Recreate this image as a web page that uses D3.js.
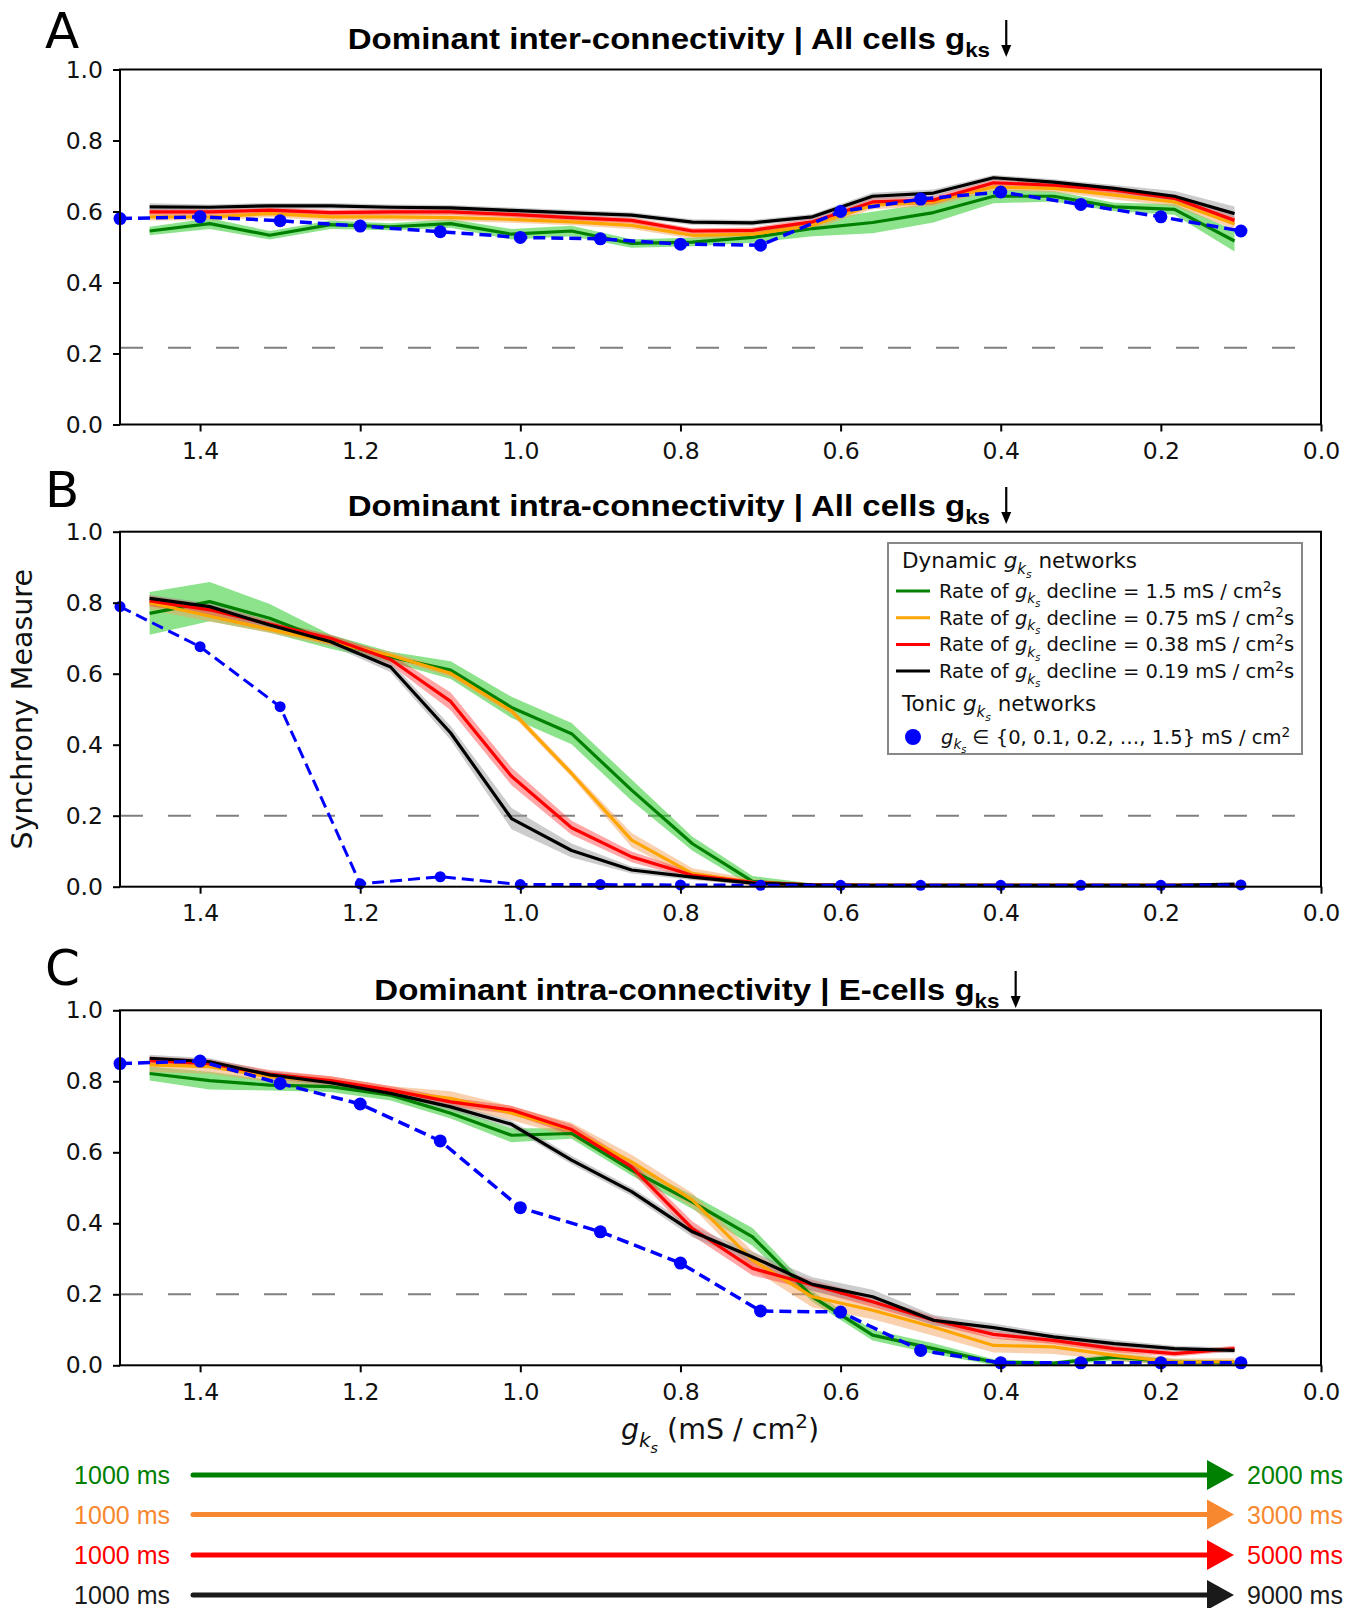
<!DOCTYPE html>
<html>
<head>
<meta charset="utf-8">
<script src="https://cdn.jsdelivr.net/npm/d3@7"></script>
<style>
  html, body { margin: 0; padding: 0; background: #fff; }
  svg { display: block; }
</style>
</head>
<body>
<svg id="fig" width="1353" height="1608"></svg>
<script>
// gks values where the dynamic runs were sampled, and the tonic network values
const xDyn = [1.463, 1.388, 1.313, 1.237, 1.162, 1.087, 1.011, 0.936, 0.861, 0.785,
              0.710, 0.635, 0.560, 0.484, 0.409, 0.334, 0.258, 0.183, 0.108];
const xTonic = [1.5, 1.4, 1.3, 1.2, 1.1, 1.0, 0.9, 0.8, 0.7, 0.6, 0.5, 0.4, 0.3, 0.2, 0.1];
const xTicks = [1.4, 1.2, 1.0, 0.8, 0.6, 0.4, 0.2, 0.0];
const yTicks = [0, 0.2, 0.4, 0.6, 0.8, 1.0];

// Panel A - dominant inter-connectivity, all cells
const aGreen    = [0.545, 0.566, 0.533, 0.563, 0.557, 0.566, 0.536, 0.545, 0.510, 0.514, 0.527, 0.552, 0.569, 0.597, 0.643, 0.643, 0.613, 0.606, 0.517];
const aGreenSd  = [0.012, 0.015, 0.012, 0.012, 0.010, 0.012, 0.015, 0.015, 0.012, 0.012, 0.015, 0.022, 0.030, 0.028, 0.020, 0.015, 0.012, 0.015, 0.030];
const aOrange   = [0.585, 0.585, 0.594, 0.585, 0.585, 0.583, 0.578, 0.571, 0.561, 0.533, 0.536, 0.561, 0.618, 0.627, 0.669, 0.665, 0.646, 0.627, 0.565];
const aOrangeSd = [0.010, 0.010, 0.010, 0.010, 0.010, 0.010, 0.010, 0.010, 0.010, 0.010, 0.010, 0.012, 0.012, 0.012, 0.010, 0.010, 0.012, 0.012, 0.015];
const aRed      = [0.599, 0.599, 0.604, 0.597, 0.599, 0.599, 0.592, 0.583, 0.575, 0.545, 0.547, 0.571, 0.627, 0.632, 0.681, 0.674, 0.660, 0.637, 0.575];
const aRedSd    = [0.008, 0.008, 0.008, 0.008, 0.008, 0.008, 0.008, 0.008, 0.008, 0.008, 0.008, 0.010, 0.012, 0.012, 0.010, 0.010, 0.010, 0.010, 0.012];
const aBlack    = [0.613, 0.612, 0.616, 0.616, 0.612, 0.610, 0.603, 0.596, 0.590, 0.570, 0.568, 0.585, 0.643, 0.652, 0.695, 0.683, 0.665, 0.643, 0.594];
const aBlackSd  = [0.010, 0.008, 0.008, 0.008, 0.008, 0.008, 0.008, 0.008, 0.008, 0.008, 0.008, 0.008, 0.010, 0.010, 0.008, 0.008, 0.010, 0.015, 0.020];
const aTonic    = [0.580, 0.585, 0.574, 0.559, 0.543, 0.527, 0.523, 0.508, 0.505, 0.600, 0.635, 0.655, 0.620, 0.585, 0.545];

// Panel B - dominant intra-connectivity, all cells
const bGreen    = [0.770, 0.803, 0.756, 0.690, 0.647, 0.610, 0.505, 0.431, 0.272, 0.121, 0.015, 0.004, 0.004, 0.004, 0.004, 0.004, 0.004, 0.004, 0.004];
const bGreenSd  = [0.060, 0.055, 0.040, 0.020, 0.015, 0.025, 0.030, 0.030, 0.030, 0.020, 0.015, 0.005, 0.003, 0.003, 0.003, 0.003, 0.003, 0.003, 0.003];
const bOrange   = [0.800, 0.762, 0.725, 0.688, 0.652, 0.601, 0.495, 0.319, 0.131, 0.037, 0.012, 0.005, 0.004, 0.004, 0.004, 0.004, 0.004, 0.004, 0.004];
const bOrangeSd = [0.020, 0.015, 0.010, 0.010, 0.010, 0.010, 0.010, 0.010, 0.020, 0.015, 0.010, 0.003, 0.003, 0.003, 0.003, 0.003, 0.003, 0.003, 0.003];
const bRed      = [0.805, 0.780, 0.740, 0.700, 0.640, 0.522, 0.311, 0.166, 0.084, 0.032, 0.012, 0.005, 0.004, 0.004, 0.004, 0.004, 0.004, 0.004, 0.004];
const bRedSd    = [0.015, 0.015, 0.010, 0.010, 0.015, 0.025, 0.025, 0.020, 0.015, 0.010, 0.005, 0.003, 0.003, 0.003, 0.003, 0.003, 0.003, 0.003, 0.003];
const bBlack    = [0.812, 0.789, 0.737, 0.690, 0.619, 0.433, 0.192, 0.102, 0.047, 0.027, 0.010, 0.005, 0.004, 0.004, 0.004, 0.004, 0.004, 0.004, 0.007];
const bBlackSd  = [0.010, 0.010, 0.010, 0.010, 0.015, 0.020, 0.030, 0.020, 0.010, 0.008, 0.005, 0.003, 0.003, 0.003, 0.003, 0.003, 0.003, 0.003, 0.003];
const bTonic    = [0.789, 0.676, 0.507, 0.008, 0.028, 0.006, 0.006, 0.005, 0.004, 0.004, 0.004, 0.004, 0.004, 0.004, 0.005];

// Panel C - dominant intra-connectivity, E-cells
const cGreen    = [0.822, 0.802, 0.789, 0.785, 0.761, 0.710, 0.648, 0.653, 0.550, 0.460, 0.362, 0.193, 0.085, 0.047, 0.009, 0.006, 0.023, 0.009, 0.008];
const cGreenSd  = [0.020, 0.025, 0.015, 0.015, 0.015, 0.015, 0.020, 0.015, 0.015, 0.020, 0.025, 0.015, 0.015, 0.015, 0.008, 0.005, 0.010, 0.008, 0.005];
const cOrange   = [0.846, 0.841, 0.813, 0.799, 0.771, 0.752, 0.710, 0.663, 0.573, 0.465, 0.296, 0.193, 0.155, 0.108, 0.056, 0.052, 0.028, 0.009, 0.010];
const cOrangeSd = [0.020, 0.020, 0.015, 0.015, 0.015, 0.020, 0.020, 0.020, 0.020, 0.020, 0.025, 0.030, 0.025, 0.025, 0.020, 0.020, 0.015, 0.010, 0.010];
const cRed      = [0.858, 0.850, 0.820, 0.802, 0.775, 0.742, 0.719, 0.664, 0.559, 0.385, 0.273, 0.226, 0.179, 0.127, 0.087, 0.070, 0.047, 0.033, 0.047];
const cRedSd    = [0.012, 0.012, 0.012, 0.012, 0.012, 0.012, 0.012, 0.015, 0.015, 0.020, 0.020, 0.015, 0.015, 0.012, 0.012, 0.010, 0.010, 0.008, 0.008];
const cBlack    = [0.865, 0.855, 0.818, 0.796, 0.766, 0.728, 0.679, 0.578, 0.489, 0.376, 0.305, 0.228, 0.193, 0.127, 0.106, 0.080, 0.061, 0.047, 0.042];
const cBlackSd  = [0.010, 0.010, 0.010, 0.010, 0.010, 0.010, 0.010, 0.012, 0.012, 0.015, 0.015, 0.020, 0.020, 0.015, 0.012, 0.010, 0.010, 0.008, 0.008];
const cTonic    = [0.850, 0.857, 0.794, 0.736, 0.632, 0.444, 0.376, 0.288, 0.153, 0.150, 0.042, 0.007, 0.007, 0.007, 0.007];

const thresholds = [0.216, 0.2, 0.2];
const panelLetters = ['A', 'B', 'C'];
const panelTitles = [
  'Dominant inter-connectivity | All cells ',
  'Dominant intra-connectivity | All cells ',
  'Dominant intra-connectivity | E-cells '
];
const rates = ['1.5', '0.75', '0.38', '0.19'];
const lineColors = ['green', 'orange', 'red', 'black'];
const bandColors = ['#2ecc2e', '#f4a460', '#ff2020', '#999999'];
const bandOpacity = [0.55, 0.5, 0.4, 0.5];
const timeStart = ['1000 ms', '1000 ms', '1000 ms', '1000 ms'];
const timeEnd = ['2000 ms', '3000 ms', '5000 ms', '9000 ms'];
const timeColors = ['#008000', '#f7882f', '#ff0000', '#1a1a1a'];

const panels = [
  { means: [aGreen, aOrange, aRed, aBlack], sds: [aGreenSd, aOrangeSd, aRedSd, aBlackSd], tonic: aTonic },
  { means: [bGreen, bOrange, bRed, bBlack], sds: [bGreenSd, bOrangeSd, bRedSd, bBlackSd], tonic: bTonic },
  { means: [cGreen, cOrange, cRed, cBlack], sds: [cGreenSd, cOrangeSd, cRedSd, cBlackSd], tonic: cTonic }
];

// layout
const svg = d3.select('#fig');
const x = d3.scaleLinear().domain([1.5, 0]).range([120, 1321]);
const panelTop = [69.5, 531.7, 1010.3];
const panelH = 355;
const titleBase = [49, 516, 1000];
const titleCenter = [680, 680, 698];
const letterBase = [47.5, 507, 985];
const TICK_FONT = '"DejaVu Sans", sans-serif';
const TITLE_FONT = '"Liberation Sans", Arial, sans-serif';

// text with italic / sub / sup runs
function richText(sel, parts, size) {
  let shift = 0;
  parts.forEach(p => {
    const target = p.sub ? size * 0.28 : p.sub2 ? size * 0.48 : p.sup ? -size * 0.38 : 0;
    const fs = (p.sub || p.sup) ? size * 0.7 : p.sub2 ? size * 0.5 : size;
    sel.append('tspan')
      .attr('dy', (target - shift).toFixed(2))
      .attr('font-size', fs)
      .attr('font-style', p.it ? 'italic' : null)
      .text(p.t);
    shift = target;
  });
}
const gks = [{ t: 'g', it: 1 }, { t: 'k', it: 1, sub: 1 }, { t: 's', it: 1, sub2: 1 }];

panels.forEach((p, k) => {
  const top = panelTop[k];
  const y = d3.scaleLinear().domain([0, 1]).range([top + panelH, top]);
  const g = svg.append('g');

  const clipId = 'clip' + k;
  svg.append('clipPath').attr('id', clipId)
    .append('rect').attr('x', x(1.5)).attr('y', top).attr('width', x(0) - x(1.5)).attr('height', panelH);

  // threshold
  g.append('line')
    .attr('x1', x(1.5)).attr('x2', x(0.02))
    .attr('y1', y(thresholds[k])).attr('y2', y(thresholds[k]))
    .attr('stroke', '#808080').attr('stroke-width', 2)
    .attr('stroke-dasharray', '23,25');

  const data = g.append('g').attr('clip-path', `url(#${clipId})`);

  // shaded spread of each dynamic series
  p.means.forEach((m, s) => {
    const area = d3.area()
      .x((d, i) => x(xDyn[i]))
      .y0((d, i) => y(d - p.sds[s][i]))
      .y1((d, i) => y(d + p.sds[s][i]));
    data.append('path').attr('d', area(m))
      .attr('fill', bandColors[s]).attr('fill-opacity', bandOpacity[s]);
  });

  p.means.forEach((m, s) => {
    const line = d3.line().x((d, i) => x(xDyn[i])).y(d => y(d));
    data.append('path').attr('d', line(m))
      .attr('fill', 'none').attr('stroke', lineColors[s])
      .attr('stroke-width', 3.2).attr('stroke-linejoin', 'round');
  });

  // tonic networks
  const tline = d3.line().x((d, i) => x(xTonic[i])).y(d => y(d));
  g.append('path').attr('d', tline(p.tonic))
    .attr('fill', 'none').attr('stroke', 'blue').attr('stroke-width', k === 1 ? 3 : 3.5)
    .attr('stroke-dasharray', '12,6');
  g.selectAll('circle.tonic').data(p.tonic).enter().append('circle')
    .attr('class', 'tonic')
    .attr('cx', (d, i) => x(xTonic[i])).attr('cy', d => y(d))
    .attr('r', k === 1 ? 5.5 : 6.5).attr('fill', 'blue');

  // axes
  const yAxis = g.append('g').attr('transform', `translate(${x(1.5)},0)`)
    .call(d3.axisLeft(y).tickValues(yTicks).tickFormat(d3.format('.1f'))
      .tickSize(7).tickSizeOuter(0).tickPadding(10));
  const xAxis = g.append('g').attr('transform', `translate(0,${top + panelH})`)
    .call(d3.axisBottom(x).tickValues(xTicks).tickFormat(d3.format('.1f'))
      .tickSize(7).tickSizeOuter(0).tickPadding(11));
  [yAxis, xAxis].forEach(a => {
    a.select('.domain').remove();
    a.selectAll('line').attr('stroke', '#000').attr('stroke-width', 2);
    a.selectAll('text').attr('font-family', TICK_FONT).attr('font-size', 23.5).attr('fill', '#111');
  });

  g.append('rect')
    .attr('x', x(1.5)).attr('y', top)
    .attr('width', x(0) - x(1.5)).attr('height', panelH)
    .attr('fill', 'none').attr('stroke', '#000').attr('stroke-width', 2);

  // panel letter
  svg.append('text').attr('x', 45).attr('y', letterBase[k])
    .attr('font-family', TICK_FONT).attr('font-size', 50).attr('fill', '#000')
    .text(panelLetters[k]);

  // title with bold g_ks and a down arrow (text slightly widened like the source)
  const stretch = 1.12;
  const tg = svg.append('g');
  const title = tg.append('text').attr('x', 0).attr('y', 0)
    .attr('font-family', TITLE_FONT).attr('font-weight', 'bold')
    .attr('font-size', 29.5).attr('fill', '#000');
  title.append('tspan').text(panelTitles[k]);
  title.append('tspan').text('g');
  title.append('tspan').attr('font-size', 20).attr('dy', 8).text('ks');
  const tw = title.node().getComputedTextLength() * stretch;
  const gap = 16;
  const x0 = titleCenter[k] - (tw + gap + 6) / 2;
  tg.attr('transform', `translate(${x0},${titleBase[k]}) scale(${stretch},1)`);
  const ax = x0 + tw + gap;
  const by = titleBase[k];
  svg.append('line').attr('x1', ax).attr('x2', ax).attr('y1', by - 29).attr('y2', by - 2)
    .attr('stroke', '#000').attr('stroke-width', 2.2);
  svg.append('path')
    .attr('d', `M${ax - 5},${by - 4} L${ax + 5},${by - 4} L${ax},${by + 8} Z`)
    .attr('fill', '#000');
});

// y label on panel B
svg.append('text')
  .attr('transform', `translate(32,${panelTop[1] + panelH / 2}) rotate(-90)`)
  .attr('text-anchor', 'middle')
  .attr('font-family', TICK_FONT).attr('font-size', 28.5).attr('fill', '#111')
  .text('Synchrony Measure');

// x label under panel C
const xl = svg.append('text').attr('x', 720).attr('y', 1439)
  .attr('text-anchor', 'middle')
  .attr('font-family', TICK_FONT).attr('font-size', 28.5).attr('fill', '#111');
richText(xl, [...gks, { t: ' (mS / cm' }, { t: '2', sup: 1 }, { t: ')' }], 28.5);

// legend inside panel B
const leg = svg.append('g').attr('font-family', TICK_FONT).attr('fill', '#111');
leg.append('rect').attr('x', 888).attr('y', 543).attr('width', 414).attr('height', 211)
  .attr('fill', '#fff').attr('stroke', '#888').attr('stroke-width', 2);
const lt1 = leg.append('text').attr('x', 902).attr('y', 568).attr('font-size', 21.5);
richText(lt1, [{ t: 'Dynamic ' }, ...gks, { t: ' networks' }], 21.5);
rates.forEach((r, i) => {
  const cy = 591 + i * 26.7;
  leg.append('line').attr('x1', 896).attr('x2', 930).attr('y1', cy).attr('y2', cy)
    .attr('stroke', lineColors[i]).attr('stroke-width', 3);
  const t = leg.append('text').attr('x', 939).attr('y', cy + 7).attr('font-size', 19.5);
  richText(t, [{ t: 'Rate of ' }, ...gks, { t: ' decline = ' + r + ' mS / cm' }, { t: '2', sup: 1 }, { t: 's' }], 19.5);
});
const lt2 = leg.append('text').attr('x', 902).attr('y', 711).attr('font-size', 21.5);
richText(lt2, [{ t: 'Tonic ' }, ...gks, { t: ' networks' }], 21.5);
leg.append('circle').attr('cx', 913).attr('cy', 737).attr('r', 8).attr('fill', 'blue');
const lt3 = leg.append('text').attr('x', 941).attr('y', 744).attr('font-size', 19.5);
richText(lt3, [...gks, { t: ' \u2208 {0, 0.1, 0.2, \u2026, 1.5} mS / cm' }, { t: '2', sup: 1 }], 19.5);

// duration arrows at the bottom
const rowY = [1475, 1514.5, 1555, 1595];
timeStart.forEach((s, i) => {
  const yy = rowY[i];
  const c = timeColors[i];
  svg.append('text').attr('x', 170).attr('y', yy + 9).attr('text-anchor', 'end')
    .attr('font-family', TITLE_FONT).attr('font-size', 25).attr('fill', c).text(s);
  svg.append('line').attr('x1', 193).attr('x2', 1210).attr('y1', yy).attr('y2', yy)
    .attr('stroke', c).attr('stroke-width', 5).attr('stroke-linecap', 'round');
  svg.append('path').attr('d', `M1207,${yy - 15} L1234,${yy} L1207,${yy + 15} Z`).attr('fill', c);
  svg.append('text').attr('x', 1247).attr('y', yy + 9)
    .attr('font-family', TITLE_FONT).attr('font-size', 25).attr('fill', c).text(timeEnd[i]);
});
</script>
</body>
</html>
